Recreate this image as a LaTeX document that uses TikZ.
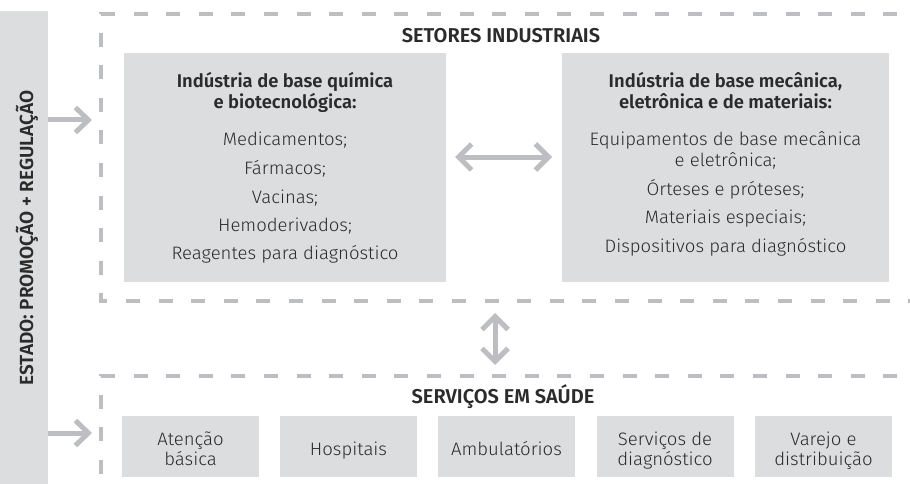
\documentclass[tikz,border=0pt]{standalone}
\usepackage{fontspec}
\setmainfont{Fira Sans}
\newfontfamily\lightfont{Fira Sans Light}[FakeStretch=1.03]
\newfontfamily\semifont{Fira Sans SemiBold}
\usetikzlibrary{arrows.meta}
\definecolor{boxgray}{HTML}{DCDDDF}
\definecolor{linegray}{HTML}{BDBEC1}
\definecolor{txt}{HTML}{2B2B2B}
\begin{document}
\begin{tikzpicture}[x=1pt,y=-1pt,
  every node/.style={text=txt, inner sep=0pt, outer sep=0pt},
  body/.style={font=\lightfont\fontsize{18}{20}\selectfont, anchor=base},
  ttl/.style={font=\semifont\fontsize{18.4}{20}\selectfont, anchor=base},
  hdr/.style={font=\semifont\fontsize{20}{20}\selectfont, anchor=base},
  fillbox/.style={fill=boxgray, draw=none, anchor=north west},
  dashline/.style={draw=linegray, line width=3.5pt, dash pattern=on 14pt off 18.6pt},
  arr/.style={draw=linegray, line width=5pt, -{Straight Barb[length=13pt,width=25pt]}},
  darr/.style={draw=linegray, line width=5pt, {Straight Barb[length=13pt,width=26pt]}-{Straight Barb[length=13pt,width=26pt]}}
]
\useasboundingbox (0,0) rectangle (910,484);

% left bar
\node[fillbox, minimum width=48pt, minimum height=480pt] (bar) at (0,11) {};
\node[font=\semifont\fontsize{19}{20}\selectfont, rotate=90, anchor=base] (estado) at (33,238) {ESTADO: PROMOÇÃO + REGULAÇÃO};

% dashed frames
\draw[dashline] (930,14) -- (101,14) -- (101,301) -- (930,301);
\draw[dashline] (930,376) -- (101,376) -- (101,500);

% arrows from bar
\coordinate (a1s) at (48,120);
\coordinate (a1e) at (92,120);
\coordinate (a2s) at (48,433);
\coordinate (a2e) at (92,433);
\draw[arr] (a1s) -- (a1e);
\draw[arr] (a2s) -- (a2e);

% header
\node[hdr] (setores) at (501,42.5) {SETORES INDUSTRIAIS};

% left box
\node[fillbox, minimum width=322pt, minimum height=229pt] (lbox) at (124,53) {};
\node[ttl] (l1) at (285,88) {Indústria de base química};
\node[ttl] (l2) at (285,109) {e biotecnológica:};
\node[body] (l3) at (285,146) {Medicamentos;};
\node[body] (l4) at (285,174.5) {Fármacos;};
\node[body] (l5) at (285,203) {Vacinas;};
\node[body] (l6) at (285,231.5) {Hemoderivados;};
\node[body] (l7) at (285,259.5) {Reagentes para diagnóstico};

% right box
\node[fillbox, minimum width=327pt, minimum height=229pt] (rbox) at (562,53) {};
\node[ttl] (r1) at (725.5,88) {Indústria de base mecânica,};
\node[ttl] (r2) at (725.5,109) {eletrônica e de materiais:};
\node[body] (r3) at (725.5,146) {Equipamentos de base mecânica};
\node[body] (r4) at (725.5,166.5) {e eletrônica;};
\node[body] (r5) at (725.5,195) {Órteses e próteses;};
\node[body] (r6) at (725.5,223.5) {Materiais especiais;};
\node[body] (r7) at (725.5,252) {Dispositivos para diagnóstico};

% double arrows
\coordinate (h1) at (455,157);
\coordinate (h2) at (552,157);
\draw[darr] (h1) -- (h2);
\coordinate (v1) at (495,313);
\coordinate (v2) at (495,365);
\draw[darr] (v1) -- (v2);

% services
\node[hdr] (servicos) at (503,403) {SERVIÇOS EM SAÚDE};
\node[fillbox, minimum width=137pt, minimum height=61pt] (s1) at (122,416) {};
\node[fillbox, minimum width=137pt, minimum height=61pt] (s2) at (280,416) {};
\node[fillbox, minimum width=137pt, minimum height=61pt] (s3) at (438,416) {};
\node[fillbox, minimum width=137pt, minimum height=61pt] (s4) at (596.5,416) {};
\node[fillbox, minimum width=137pt, minimum height=61pt] (s5) at (755,416) {};
\node[body] (s1a) at (s1.center |- 0,445) {Atenção};
\node[body] (s1b) at (s1.center |- 0,465) {básica};
\node[body] (s2a) at (s2.center |- 0,455) {Hospitais};
\node[body] (s3a) at (s3.center |- 0,455) {Ambulatórios};
\node[body] (s4a) at (s4.center |- 0,445) {Serviços de};
\node[body] (s4b) at (s4.center |- 0,465) {diagnóstico};
\node[body] (s5a) at (s5.center |- 0,445) {Varejo e};
\node[body] (s5b) at (s5.center |- 0,465) {distribuição};
\end{tikzpicture}
\end{document}
